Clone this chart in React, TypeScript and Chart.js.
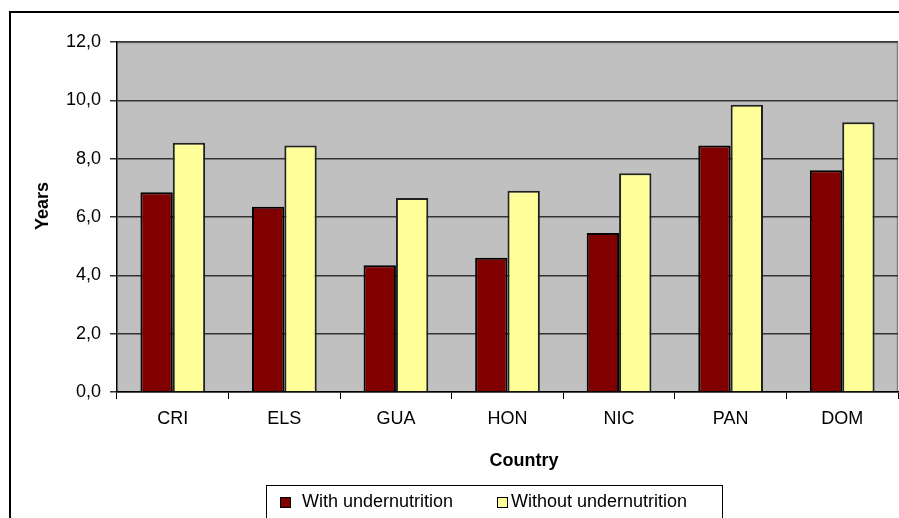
import React, { useEffect, useRef } from "react";
import { Chart, registerables } from "chart.js";

Chart.register(...registerables);

const categories = ["CRI", "ELS", "GUA", "HON", "NIC", "PAN", "DOM"];
const withUndernutrition = [6.85, 6.35, 4.35, 4.6, 5.45, 8.45, 7.6];
const withoutUndernutrition = [8.55, 8.45, 6.65, 6.9, 7.5, 9.85, 9.25];
const seriesLabels = ["With undernutrition", "Without undernutrition"];
const seriesColors = ["#800000", "#FFFF99"];
const yTitle = "Years";
const xTitle = "Country";

const FONT = "'Liberation Sans', Arial, sans-serif";

const decorPlugin = {
  id: "decor",
  beforeDraw(chart: any) {
    const { ctx, chartArea } = chart;
    const { left, top, right, bottom } = chartArea;
    ctx.save();
    ctx.fillStyle = "#ffffff";
    ctx.fillRect(0, 0, chart.width, chart.height);
    ctx.fillStyle = "#C0C0C0";
    ctx.fillRect(left, top, right - left, bottom - top);
    ctx.strokeStyle = "#808080";
    ctx.lineWidth = 1.5;
    ctx.beginPath();
    ctx.moveTo(left, top + 0.5);
    ctx.lineTo(right - 0.5, top + 0.5);
    ctx.lineTo(right - 0.5, bottom);
    ctx.stroke();
    ctx.strokeStyle = "#000000";
    ctx.lineWidth = 2;
    ctx.beginPath();
    ctx.moveTo(10, chart.height);
    ctx.lineTo(10, 12);
    ctx.lineTo(chart.width, 12);
    ctx.stroke();
    ctx.restore();
  },
  afterDraw(chart: any) {
    const { ctx } = chart;
    ctx.save();
    ctx.fillStyle = "#000";
    ctx.font = `bold 18px ${FONT}`;
    ctx.textAlign = "center";
    ctx.textBaseline = "middle";
    ctx.fillText(xTitle, 524, 461);
    ctx.translate(43, 206);
    ctx.rotate(-Math.PI / 2);
    ctx.fillText(yTitle, 0, 0);
    ctx.restore();

    // legend
    ctx.save();
    ctx.fillStyle = "#fff";
    ctx.fillRect(266, 485, 457, 40);
    ctx.strokeStyle = "#000";
    ctx.lineWidth = 1;
    ctx.strokeRect(266.5, 485.5, 456, 40);
    const items = chart.data.datasets.map((d: any) => ({ label: d.label, color: d.backgroundColor }));
    const xs = [280, 497];
    ctx.font = `18px ${FONT}`;
    ctx.textBaseline = "middle";
    ctx.textAlign = "left";
    items.forEach((it: any, i: number) => {
      const x = xs[i];
      ctx.fillStyle = it.color;
      ctx.fillRect(x, 497, 10, 10);
      ctx.strokeStyle = "#000";
      ctx.strokeRect(x + 0.5, 497.5, 10, 10);
      ctx.fillStyle = "#000";
      ctx.fillText(it.label, x + (i === 0 ? 22 : 14), 502);
    });
    ctx.restore();
  },
};

export default function App() {
  const ref = useRef<HTMLCanvasElement>(null);
  useEffect(() => {
    if (!ref.current) return;
    const chart = new Chart(ref.current, {
      type: "bar",
      data: {
        labels: categories,
        datasets: [
          {
            label: seriesLabels[0],
            data: withUndernutrition,
            backgroundColor: seriesColors[0],
            borderColor: "#000",
            borderWidth: 2,
            categoryPercentage: 0.58,
            barPercentage: 1,
          },
          {
            label: seriesLabels[1],
            data: withoutUndernutrition,
            backgroundColor: seriesColors[1],
            borderColor: "#222",
            borderWidth: 2,
            categoryPercentage: 0.58,
            barPercentage: 1,
          },
        ],
      },
      options: {
        responsive: false,
        animation: false,
        layout: { padding: { left: 0, top: 42, right: 1, bottom: 0 } },
        plugins: { legend: { display: false }, tooltip: { enabled: false }, title: { display: false } },
        scales: {
          x: {
            afterFit: (s: any) => {
              s.height = 126;
            },
            grid: { display: true, drawOnChartArea: false, drawTicks: true, tickLength: 7, color: "#000", offset: true },
            border: { display: true, color: "#000", width: 1.5 },
            ticks: { color: "#000", font: { family: FONT, size: 18 }, padding: 9, maxRotation: 0 },
          },
          y: {
            min: 0,
            max: 12,
            afterFit: (s: any) => {
              s.width = 117;
            },
            grid: { color: "#333", lineWidth: 1.5, drawTicks: true, tickLength: 7 },
            border: { display: true, color: "#000", width: 1.5 },
            ticks: {
              stepSize: 2,
              color: "#000",
              font: { family: FONT, size: 18 },
              padding: 9,
              callback: (v: any) => Number(v).toFixed(1).replace(".", ","),
            },
          },
        },
      },
      plugins: [decorPlugin],
    });
    return () => chart.destroy();
  }, []);
  return (
    <div style={{ position: "fixed", left: 0, top: 0, width: 899, height: 518, background: "#fff" }}>
      <canvas ref={ref} width={899} height={518} style={{ display: "block" }} />
    </div>
  );
}
